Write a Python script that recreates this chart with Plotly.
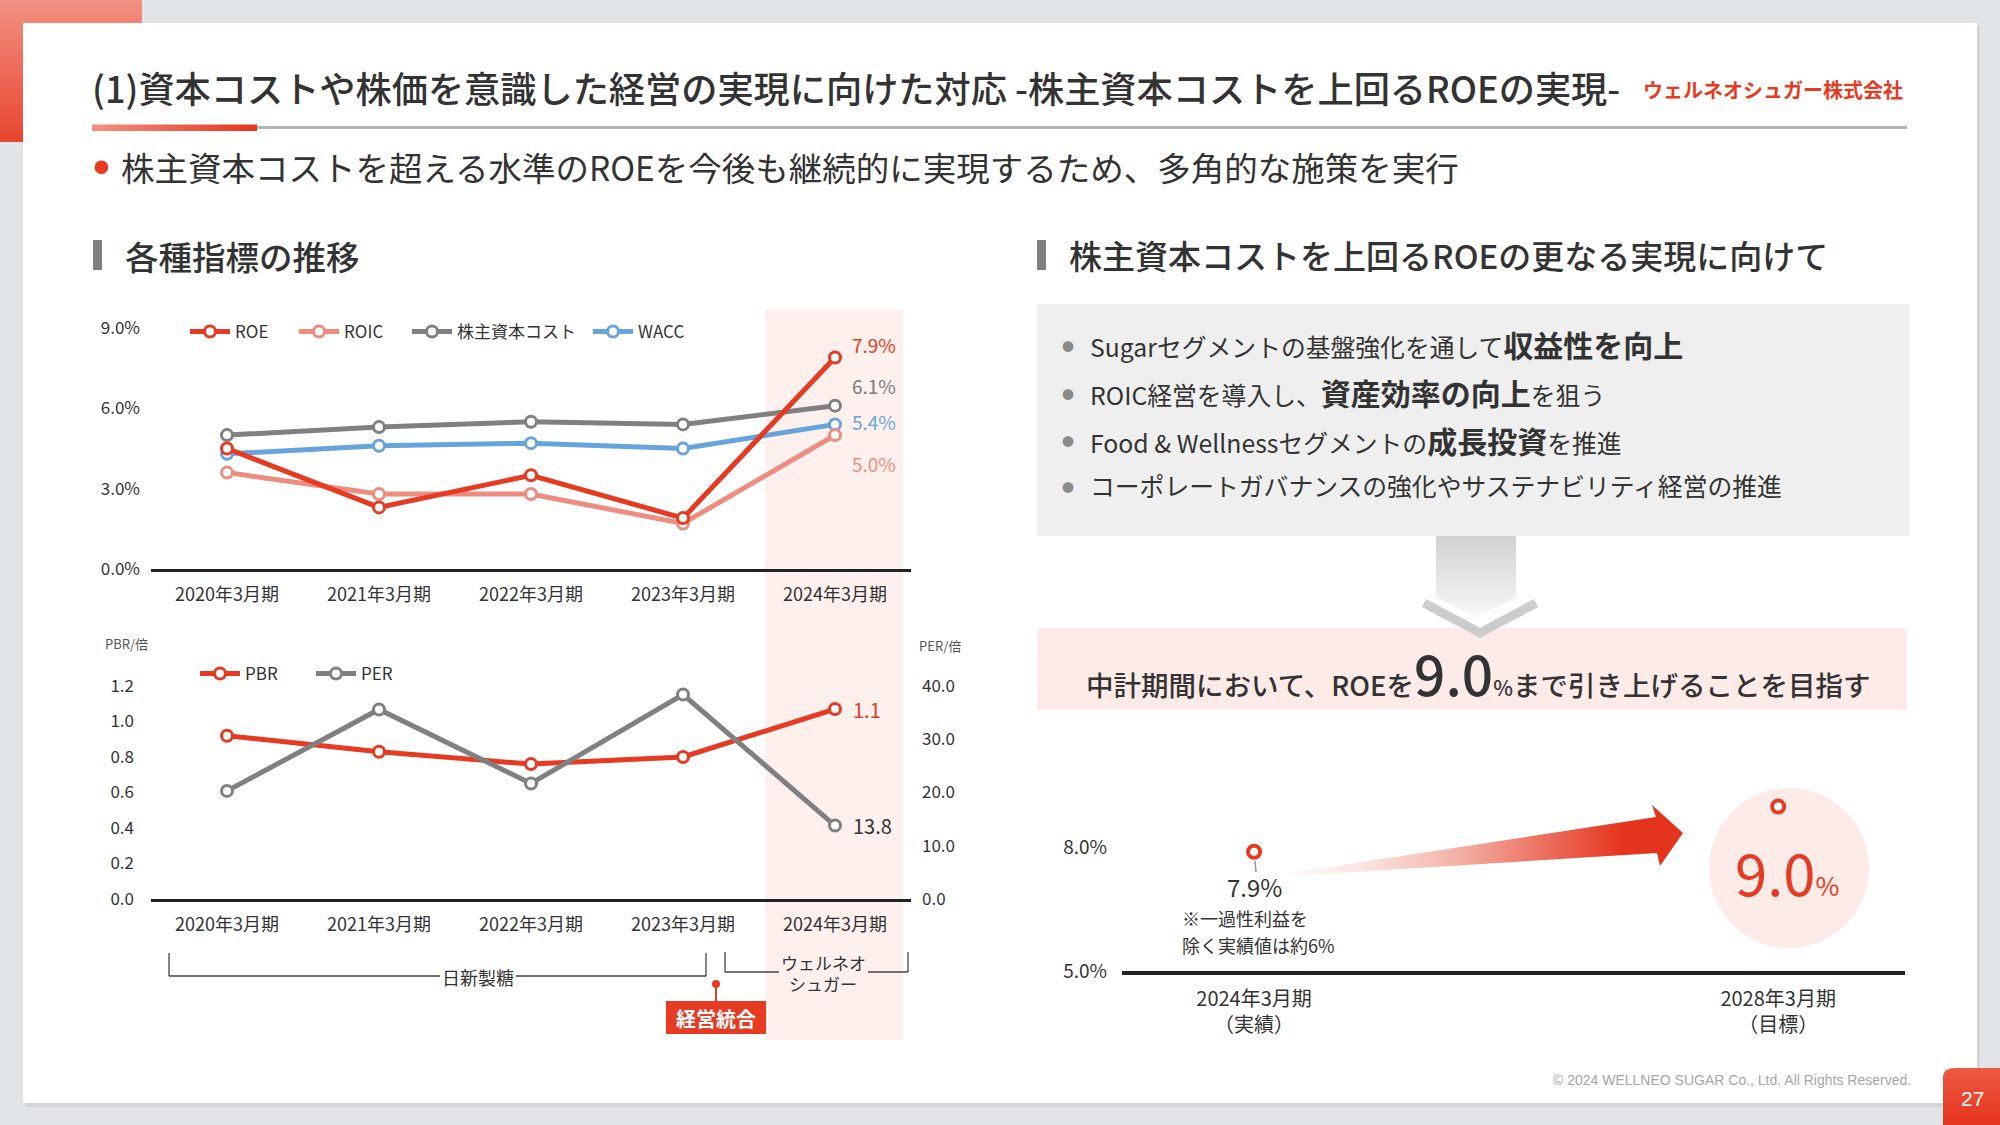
import plotly.graph_objects as go

W, H = 2000, 1125
JP = "Noto Sans CJK JP, Noto Sans, sans-serif"
LAT = "Liberation Sans, Arial, sans-serif"

# ---------------- data ----------------
categories = ["2020年3月期", "2021年3月期", "2022年3月期", "2023年3月期", "2024年3月期"]
roe = [4.5, 2.3, 3.5, 1.9, 7.9]
roic = [3.6, 2.8, 2.8, 1.7, 5.0]
cost_of_equity = [5.0, 5.3, 5.5, 5.4, 6.1]
wacc = [4.3, 4.6, 4.7, 4.5, 5.4]
pct_ticks = [0, 3, 6, 9]

pbr = [0.92, 0.83, 0.76, 0.80, 1.07]
per = [20.3, 35.6, 21.7, 38.4, 13.8]
pbr_ticks = [0, 0.2, 0.4, 0.6, 0.8, 1.0, 1.2]
per_ticks = [0, 10, 20, 30, 40]

target_categories = ["2024年3月期<br>（実績）", "2028年3月期<br>（目標）"]
target_roe = [7.9, 9.0]
target_ticks = [5.0, 8.0]

# ---------------- style ----------------
RED = "#e63a22"
SALMON = "#ee8c80"
GRAY = "#808080"
BLUE = "#68a4dc"
TXT = "#333333"


def px(x):
    return x / W


def py(y):
    return 1 - y / H


shapes = []


def rect(x0, y0, x1, y1, color):
    shapes.append(dict(type="rect", xref="paper", yref="paper", x0=px(x0), x1=px(x1),
                       y0=py(y1), y1=py(y0), fillcolor=color, line=dict(width=0), layer="below"))


def seg(x0, y0, x1, y1, color, width):
    shapes.append(dict(type="line", xref="paper", yref="paper", x0=px(x0), y0=py(y0),
                       x1=px(x1), y1=py(y1), line=dict(color=color, width=width), layer="below"))


def path(pts, fill=None, line_color=None, width=0, closed=True):
    d = "M" + " L".join(f"{px(x):.5f},{py(y):.5f}" for x, y in pts) + (" Z" if closed else "")
    shapes.append(dict(type="path", xref="paper", yref="paper", path=d,
                       fillcolor=fill or "rgba(0,0,0,0)",
                       line=dict(color=line_color or "rgba(0,0,0,0)", width=width), layer="below"))


# background card
rect(25, 26, 1980, 1107, "rgba(0,0,0,0.07)")
rect(23, 23, 1977, 1103, "#ffffff")
# 2024 highlight band
rect(765, 310, 903, 1040, "#fdf0ed")
# right boxes
rect(1037, 304, 1909, 536, "#efefef")
rect(1037, 628, 1907, 710, "#fdebe7")
# section header bars
rect(93, 240, 102, 270, "#808080")
rect(1037, 240, 1046, 270, "#808080")
# divider gray line
seg(257, 127.5, 1907, 127.5, "#b4b4b4", 3)
# pink target circle
shapes.append(dict(type="circle", xref="paper", yref="paper", x0=px(1709), x1=px(1869),
                   y0=py(948), y1=py(788), fillcolor="#fdebe7", line=dict(width=0), layer="below"))
# chevron of down arrow
path([(1424, 603), (1480, 633), (1536, 603)], line_color="#cccccc", width=9, closed=False)
path([(1432, 597), (1480, 622), (1528, 597)], line_color="#ffffff", width=3, closed=False)
# brackets
BR = "#444444"
seg(169, 953, 169, 976, BR, 1.3)
seg(169, 976, 440, 976, BR, 1.3)
seg(516, 976, 706, 976, BR, 1.3)
seg(706, 953, 706, 976, BR, 1.3)
seg(725, 952, 725, 972, BR, 1.3)
seg(725, 972, 779, 972, BR, 1.3)
seg(868, 972, 908, 972, BR, 1.3)
seg(908, 952, 908, 972, BR, 1.3)
# integration marker
seg(716, 984, 716, 1001, RED, 2)
shapes.append(dict(type="circle", xref="paper", yref="paper", x0=px(712), x1=px(720),
                   y0=py(988), y1=py(980), fillcolor=RED, line=dict(width=0), layer="below"))
rect(666, 1001, 766, 1034, RED)
# pin line under 7.9 point
seg(1255, 861, 1256, 872, "#999999", 1.5)

annotations = []


def txt(x, y, text, size, color=TXT, xanchor="left", yanchor="middle", weight=None, family=JP):
    f = dict(size=size, color=color, family=family)
    if weight:
        f["weight"] = weight
    annotations.append(dict(x=px(x), y=py(y), xref="paper", yref="paper", text=text,
                            showarrow=False, xanchor=xanchor, yanchor=yanchor, font=f, align="left"))


# titles
txt(90, 87, "(1)資本コストや株価を意識した経営の実現に向けた対応 -株主資本コストを上回るROEの実現-", 36.2, weight=500)
txt(1905, 89, "<b>ウェルネオシュガー株式会社</b>", 20, color=RED, xanchor="right")
txt(101, 167, "●", 15, color=RED, xanchor="center")
txt(119, 167, "株主資本コストを超える水準のROEを今後も継続的に実現するため、多角的な施策を実行", 33.5)
txt(123, 255, "各種指標の推移", 33.5, weight=500)
txt(1067, 255, "株主資本コストを上回るROEの更なる実現に向けて", 33, weight=500)

# right box bullets
bul = [
    "Sugarセグメントの基盤強化を通して<span style='font-size:30px'><b>収益性を向上</b></span>",
    "ROIC経営を導入し、<span style='font-size:30px'><b>資産効率の向上</b></span>を狙う",
    "Food &amp; Wellnessセグメントの<span style='font-size:30px'><b>成長投資</b></span>を推進",
    "コーポレートガバナンスの強化やサステナビリティ経営の推進",
]
for yy, t in zip([344, 392, 440, 485], bul):
    txt(1068, yy + 2, "●", 12, color="#8a8a8a", xanchor="center")
    txt(1088, yy, t, 24.8)

txt(1478, 672, "中計期間において、ROEを<span style='font-size:55px'>9.0</span>"
    "<span style='font-size:21px'>%</span>まで引き上げることを目指す", 27.5, xanchor="center", weight=500)

# axis unit labels
txt(103, 643, "PBR/倍", 13, color="#555555")
txt(917, 645, "PER/倍", 13, color="#555555")

# bracket labels
txt(478, 977, "日新製糖", 18, xanchor="center")
txt(823, 962, "ウェルネオ", 17, xanchor="center")
txt(823, 983, "シュガー", 17, xanchor="center")
txt(716, 1018, "<b>経営統合</b>", 20, color="#ffffff", xanchor="center")

# right-bottom notes
txt(1180, 918, "※一過性利益を", 18)
txt(1180, 945, "除く実績値は約6%", 18)

# footer
txt(1913, 1080, "© 2024 WELLNEO SUGAR Co., Ltd. All Rights Reserved.", 14, color="#a6a6a6",
    xanchor="right", family=LAT)
txt(1972, 1098, "27", 21, color="#ffffff", xanchor="center", family=LAT)

# data end labels
end_labels = [
    (roe, RED, 13), (cost_of_equity, "#7a7a7a", 20), (wacc, BLUE, 3), (roic, SALMON, -28),
]
for vals, col, ys in end_labels:
    annotations.append(dict(x=categories[-1], y=vals[-1], xref="x", yref="y",
                            text=f"{vals[-1]:.1f}%", showarrow=False, xanchor="left",
                            yanchor="middle", xshift=15, yshift=ys,
                            font=dict(size=19, color=col, family=JP)))
annotations.append(dict(x=categories[-1], y=pbr[-1], xref="x2", yref="y2", text=f"{pbr[-1]:.1f}",
                        showarrow=False, xanchor="left", yanchor="middle", xshift=16,
                        font=dict(size=20, color=RED, family=JP)))
annotations.append(dict(x=categories[-1], y=per[-1], xref="x2", yref="y3", text=f"{per[-1]:.1f}",
                        showarrow=False, xanchor="left", yanchor="middle", xshift=16,
                        font=dict(size=20, color=TXT, family=JP)))
annotations.append(dict(x=target_categories[0], y=target_roe[0], xref="x4", yref="y4",
                        text=f"{target_roe[0]:.1f}%", showarrow=False, xanchor="center",
                        yanchor="middle", yshift=-35, font=dict(size=24, color=TXT, family=JP)))
annotations.append(dict(x=target_categories[1], y=target_roe[1], xref="x4", yref="y4",
                        text=f"{target_roe[1]:.1f}<span style='font-size:26px'>%</span>",
                        showarrow=False, xanchor="center", yanchor="middle", xshift=9, yshift=-64,
                        font=dict(size=58, color=RED, family=JP)))

fig = go.Figure()


def deco(pts, grad):
    xs = [p[0] for p in pts] + [pts[0][0]]
    ys = [p[1] for p in pts] + [pts[0][1]]
    fig.add_trace(go.Scatter(x=xs, y=ys, xaxis="x5", yaxis="y5", mode="lines", fill="toself",
                             fillgradient=grad, line=dict(width=0), hoverinfo="skip",
                             showlegend=False))


# top-left tab
deco([(0, 0), (142, 0), (142, 23), (23, 23), (23, 142), (0, 142)],
     dict(type="vertical", start=0, stop=142, colorscale=[[0, "#f29182"], [1, "#e8452e"]]))
# divider red bar
deco([(92, 124.5), (257, 124.5), (257, 131), (92, 131)],
     dict(type="horizontal", start=92, stop=257, colorscale=[[0, "#f2917f"], [1, "#e5341d"]]))
# gray down arrow column
deco([(1436, 536), (1516, 536), (1516, 597), (1476, 618), (1436, 597)],
     dict(type="vertical", start=536, stop=615, colorscale=[[0, "#d2d2d2"], [1, "#f7f7f7"]]))
# gradient arrow
deco([(1290, 873), (1656, 817), (1652, 805), (1683, 833), (1660, 866), (1657, 853), (1290, 876)],
     dict(type="horizontal", start=1290, stop=1683,
          colorscale=[[0, "rgba(252,232,228,0.3)"], [0.45, "#f2aa9e"], [0.85, "#e5341d"], [1, "#e5341d"]]))
# page number tab
deco([(1943, 1125), (1943, 1076), (1945, 1071), (1950, 1068.5), (1956, 1068), (2000, 1068), (2000, 1125)],
     dict(type="vertical", start=1068, stop=1125, colorscale=[[0, "#ee5a43"], [1, "#e5341d"]]))


def line_trace(x, y, name, color, xa, ya, leg, width=5, msize=11):
    fig.add_trace(go.Scatter(x=x, y=y, name=name, mode="lines+markers", xaxis=xa, yaxis=ya,
                             line=dict(color=color, width=width),
                             marker=dict(symbol="circle", size=msize, color="white",
                                         line=dict(color=color, width=3)),
                             legend=leg, hoverinfo="skip"))


line_trace(categories, cost_of_equity, "株主資本コスト", GRAY, "x", "y", "legend3")
line_trace(categories, wacc, "WACC", BLUE, "x", "y", "legend4")
line_trace(categories, roic, "ROIC", SALMON, "x", "y", "legend2")
line_trace(categories, roe, "ROE", RED, "x", "y", "legend")
line_trace(categories, pbr, "PBR", RED, "x2", "y2", "legend5")
line_trace(categories, per, "PER", GRAY, "x2", "y3", "legend6")
fig.add_trace(go.Scatter(x=target_categories, y=target_roe, mode="markers", xaxis="x4", yaxis="y4",
                         marker=dict(symbol="circle", size=12, color="white", line=dict(color=RED, width=4)),
                         showlegend=False, hoverinfo="skip"))

tickf = dict(size=17, color=TXT, family=JP)
xcommon = dict(type="category", range=[-0.5, 4.5], showline=True, linecolor="#222222", linewidth=2.5,
               ticks="", showgrid=False, zeroline=False, tickfont=dict(size=18, color=TXT, family=JP),
               fixedrange=True, ticklabelstandoff=8, automargin=False)
ycommon = dict(showgrid=False, zeroline=False, showline=False, ticks="", tickfont=tickf,
               fixedrange=True, automargin=False)


def legpos(x, y):
    return dict(x=px(x), y=py(y), xanchor="left", yanchor="middle", orientation="h",
                bgcolor="rgba(0,0,0,0)", borderwidth=0, itemwidth=40,
                font=dict(size=17, color=TXT, family=JP))


fig.update_layout(
    width=W, height=H, margin=dict(l=0, r=0, t=0, b=0, pad=0, autoexpand=False),
    paper_bgcolor="#e2e5e8", plot_bgcolor="rgba(0,0,0,0)",
    font=dict(family=JP, color=TXT), hovermode=False,
    shapes=shapes, annotations=annotations,
    xaxis=dict(domain=[px(151), px(911)], anchor="y", **xcommon),
    yaxis=dict(domain=[py(569), py(328)], anchor="x", range=[0, 9], tickvals=pct_ticks,
               ticktext=[f"{v:.1f}%" for v in pct_ticks], ticklabelstandoff=10, **ycommon),
    xaxis2=dict(domain=[px(151), px(911)], anchor="y2", **xcommon),
    yaxis2=dict(domain=[py(899), py(686)], anchor="x2", range=[0, 1.2], tickvals=pbr_ticks,
                ticktext=[f"{v:.1f}" for v in pbr_ticks], ticklabelstandoff=16, **ycommon),
    yaxis3=dict(overlaying="y2", side="right", anchor="x2", range=[0, 40], tickvals=per_ticks,
                ticktext=[f"{v:.1f}" for v in per_ticks], ticklabelstandoff=10, **ycommon),
    xaxis4=dict(domain=[px(1122), px(1905)], anchor="y4", type="category", range=[-0.252, 1.242],
                showline=True, linecolor="#222222", linewidth=3.5, ticks="", showgrid=False,
                zeroline=False, tickfont=dict(size=20, color=TXT, family=JP), fixedrange=True,
                ticklabelstandoff=7, automargin=False),
    yaxis4=dict(domain=[py(971), py(786)], anchor="x4", range=[5, 9.5], tickvals=target_ticks,
                ticktext=[f"{v:.1f}%" for v in target_ticks], ticklabelstandoff=14,
                showgrid=False, zeroline=False, showline=False, ticks="", automargin=False,
                tickfont=dict(size=19, color=TXT, family=JP), fixedrange=True),
    xaxis5=dict(domain=[0, 1], range=[0, W], visible=False, fixedrange=True, anchor="y5"),
    yaxis5=dict(domain=[0, 1], range=[H, 0], visible=False, fixedrange=True, anchor="x5"),
    legend=legpos(185, 332),
    legend2=legpos(294, 332),
    legend3=legpos(407, 332),
    legend4=legpos(588, 332),
    legend5=legpos(195, 674),
    legend6=legpos(311, 674),
)

fig.write_html("out.html", config={"displayModeBar": False},
               post_script="document.body.style.margin='0';document.body.style.overflow='hidden';")
